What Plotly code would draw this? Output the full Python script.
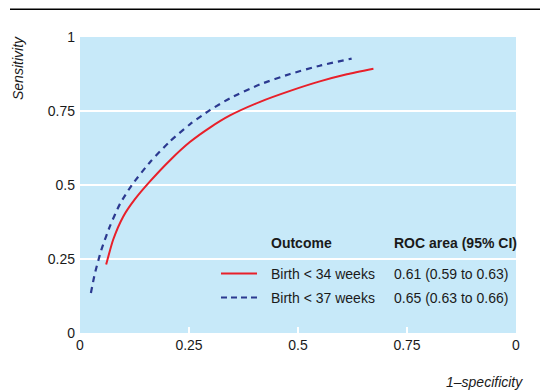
import plotly.graph_objects as go

# ROC curve data
red_x = [0.060, 0.076, 0.099, 0.126, 0.161, 0.206, 0.252, 0.298, 0.344, 0.413, 0.482, 0.550, 0.612, 0.673]
red_y = [0.231, 0.315, 0.393, 0.452, 0.513, 0.583, 0.645, 0.694, 0.735, 0.781, 0.818, 0.850, 0.874, 0.893]
blue_x = [0.025, 0.034, 0.049, 0.069, 0.092, 0.119, 0.161, 0.206, 0.252, 0.298, 0.344, 0.413, 0.482, 0.550, 0.623]
blue_y = [0.135, 0.200, 0.281, 0.362, 0.437, 0.500, 0.578, 0.647, 0.705, 0.753, 0.793, 0.840, 0.875, 0.903, 0.927]

tick_vals = [0, 0.25, 0.5, 0.75, 1]
x_tick_text = ["0", "0.25", "0.5", "0.75", "0"]
y_tick_text = ["0", "0.25", "0.5", "0.75", "1"]

legend_header = ["Outcome", "ROC area (95% CI)"]
legend_labels = ["Birth < 34 weeks", "Birth < 37 weeks"]
legend_auc = ["0.61 (0.59 to 0.63)", "0.65 (0.63 to 0.66)"]

RED = "#e8202a"
BLUE = "#2b3990"
BG = "#c7e9f9"
FONT = "Liberation Sans, Arial, sans-serif"
DASH = "6px,5px"

fig = go.Figure()
fig.add_trace(go.Scatter(x=red_x, y=red_y, mode="lines",
                         line=dict(color=RED, width=2, shape="spline", smoothing=0.6),
                         showlegend=False, hoverinfo="skip"))
fig.add_trace(go.Scatter(x=blue_x, y=blue_y, mode="lines",
                         line=dict(color=BLUE, width=2.2, dash=DASH, shape="spline", smoothing=0.6),
                         showlegend=False, hoverinfo="skip"))

W, H = 540, 392
L, R, T, B = 80, 24, 37, 58.5
pw, ph = W - L - R, H - T - B

def px(xp):
    return (xp - L) / pw

def py(yp):
    return (H - B - yp) / ph

fig.update_layout(
    width=W, height=H,
    margin=dict(l=L, r=R, t=T, b=B),
    paper_bgcolor="white",
    plot_bgcolor=BG,
    font=dict(family=FONT, size=14, color="#1a1a1a"),
    xaxis=dict(range=[0, 1], tickvals=tick_vals, ticktext=x_tick_text, showgrid=False,
               zeroline=False, showline=False, ticks="inside", ticklen=6, tickwidth=2,
               tickcolor="white", ticklabelstandoff=2, fixedrange=True),
    yaxis=dict(range=[0, 1], tickvals=tick_vals, ticktext=y_tick_text, showgrid=True,
               gridcolor="white", gridwidth=2, zeroline=False, showline=False, ticks="",
               ticklabelstandoff=4, fixedrange=True),
)

# top rule
fig.add_shape(type="line", xref="paper", yref="paper", x0=px(10), x1=px(540), y0=py(9.3), y1=py(9.3),
              line=dict(color="black", width=1.5))

# axis titles
fig.add_annotation(xref="paper", yref="paper", x=px(18), y=py(34), text="<i>Sensitivity</i>",
                   textangle=-90, showarrow=False, xanchor="center", yanchor="top", font=dict(size=14))
fig.add_annotation(xref="paper", yref="paper", x=px(525), y=py(383), text="<i>1–specificity</i>",
                   showarrow=False, xanchor="right", yanchor="middle", font=dict(size=14))

# legend table
fig.add_annotation(xref="paper", yref="paper", x=px(269), y=py(243), text="<b>" + legend_header[0] + "</b>",
                   showarrow=False, xanchor="left", yanchor="middle", font=dict(size=14))
fig.add_annotation(xref="paper", yref="paper", x=px(392), y=py(243), text="<b>" + legend_header[1] + "</b>",
                   showarrow=False, xanchor="left", yanchor="middle", font=dict(size=14))
row_y = [274, 298]
colors = [RED, BLUE]
dashes = ["solid", "6px,4px"]
for i in range(2):
    fig.add_shape(type="line", xref="paper", yref="paper", x0=px(221), x1=px(257), y0=py(row_y[i]),
                  y1=py(row_y[i]), line=dict(color=colors[i], width=2, dash=dashes[i]))
    fig.add_annotation(xref="paper", yref="paper", x=px(269), y=py(row_y[i]), text=legend_labels[i],
                       showarrow=False, xanchor="left", yanchor="middle", font=dict(size=14))
    fig.add_annotation(xref="paper", yref="paper", x=px(392), y=py(row_y[i]), text=legend_auc[i],
                       showarrow=False, xanchor="left", yanchor="middle", font=dict(size=14))

fig.write_html("out.html", config={"displayModeBar": False},
               post_script="document.body.style.margin='0';document.body.style.padding='0';")
